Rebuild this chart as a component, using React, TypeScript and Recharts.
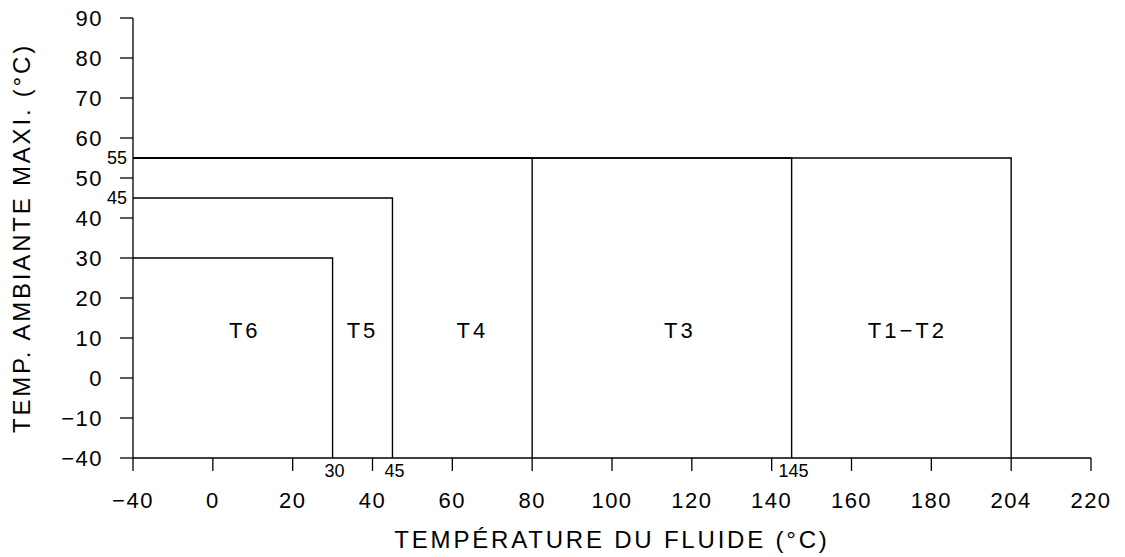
import React from 'react';
import { ComposedChart, Line, Scatter, XAxis, YAxis } from 'recharts';

// tick labels are evenly spaced on the drawing, whatever their value
const xTickLabels = [-40, 0, 20, 40, 60, 80, 100, 120, 140, 160, 180, 204, 220];
const yTickLabels = [-40, -10, 0, 10, 20, 30, 40, 50, 60, 70, 80, 90];

// temperature classes
const zoneNames = ['T6', 'T5', 'T4', 'T3', 'T1−T2'];
const fluidLimits = [30, 45, 80, 145, 204];
const ambientLimits = [30, 45, 55, 55, 55];
const nameFluid = [8, 37.5, 65, 117, 174];
const nameAmbient = [12, 12, 12, 12, 12];

// small values written next to the axes
const fluidMarks = [30, 45, 145];
const ambientMarks = [55, 45];

const FONT = '"Liberation Sans", Arial, sans-serif';

// piecewise position along the evenly spaced ticks
function toIndex(v: number, ticks: number[]) {
  for (let i = 0; i < ticks.length - 1; i++) {
    if (v <= ticks[i + 1]) {
      return i + (v - ticks[i]) / (ticks[i + 1] - ticks[i]);
    }
  }
  return ticks.length - 1;
}
const xi = (v: number) => toIndex(v, xTickLabels);
const yi = (v: number) => toIndex(v, yTickLabels);

const zoneLines = fluidLimits.map((lim, i) => [
  { x: xi(-40), y: yi(ambientLimits[i]) },
  { x: xi(lim), y: yi(ambientLimits[i]) },
  { x: xi(lim), y: yi(-40) },
]);

const nameData = zoneNames.map((name, i) => ({ x: xi(nameFluid[i]), y: yi(nameAmbient[i]), name }));
const fluidMarkData = fluidMarks.map((v) => ({ x: xi(v), y: yi(-40), name: String(v) }));
const ambientMarkData = ambientMarks.map((v) => ({ x: xi(-40), y: yi(v), name: String(v) }));

const XTick = (props: any) => {
  const { x, y, payload } = props;
  return (
    <text x={x} y={y + 37} textAnchor="middle" fontFamily={FONT} fontSize={22} letterSpacing={1.5} fill="#000">
      {String(xTickLabels[payload.value]).replace('-', '−')}
    </text>
  );
};

const YTick = (props: any) => {
  const { x, y, payload } = props;
  return (
    <text x={x - 17} y={y + 8} textAnchor="end" fontFamily={FONT} fontSize={22} letterSpacing={1.5} fill="#000">
      {String(yTickLabels[payload.value]).replace('-', '−')}
    </text>
  );
};

export default function App() {
  return (
    <div style={{ width: 1125, height: 557, background: '#fff' }}>
      <style>{'body{margin:0}'}</style>
      <ComposedChart width={1125} height={557} margin={{ top: 18, right: 34, left: 0, bottom: 0 }}>
        <XAxis
          type="number"
          dataKey="x"
          domain={[0, xTickLabels.length - 1]}
          ticks={xTickLabels.map((_, i) => i)}
          tick={<XTick />}
          tickSize={13}
          tickMargin={0}
          height={99}
          stroke="#000"
          strokeWidth={1.3}
          label={{
            content: (p: any) => {
              const vb = p.viewBox;
              return (
                <text x={vb.x + vb.width / 2} y={548} textAnchor="middle" fontFamily={FONT} fontSize={24} letterSpacing={2.8} fill="#000">
                  TEMPÉRATURE DU FLUIDE (°C)
                </text>
              );
            },
          }}
        />
        <YAxis
          type="number"
          dataKey="y"
          domain={[0, yTickLabels.length - 1]}
          ticks={yTickLabels.map((_, i) => i)}
          tick={<YTick />}
          tickSize={13}
          tickMargin={0}
          width={133}
          stroke="#000"
          strokeWidth={1.3}
          label={{
            content: (p: any) => {
              const vb = p.viewBox;
              const cy = vb.y + vb.height / 2;
              return (
                <text x={30} y={cy} transform={`rotate(-90 30 ${cy})`} textAnchor="middle" fontFamily={FONT} fontSize={24} letterSpacing={2.8} fill="#000">
                  TEMP. AMBIANTE MAXI. (°C)
                </text>
              );
            },
          }}
        />
        {zoneLines.map((d, i) => (
          <Line
            key={zoneNames[i]}
            data={d}
            dataKey="y"
            type="linear"
            stroke="#000"
            strokeWidth={1.4}
            dot={false}
            activeDot={false}
            isAnimationActive={false}
          />
        ))}
        <Scatter
          data={nameData}
          dataKey="y"
          isAnimationActive={false}
          shape={(p: any) => (
            <text x={p.cx} y={p.cy + 8} textAnchor="middle" fontFamily={FONT} fontSize={22} letterSpacing={3} fill="#000">
              {p.payload.name}
            </text>
          )}
        />
        <Scatter
          data={fluidMarkData}
          dataKey="y"
          isAnimationActive={false}
          shape={(p: any) => (
            <text x={p.cx + 2} y={p.cy + 19} textAnchor="middle" fontFamily={FONT} fontSize={18} fill="#000">
              {p.payload.name}
            </text>
          )}
        />
        <Scatter
          data={ambientMarkData}
          dataKey="y"
          isAnimationActive={false}
          shape={(p: any) => (
            <text x={p.cx - 6} y={p.cy + 6} textAnchor="end" fontFamily={FONT} fontSize={18} fill="#000">
              {p.payload.name}
            </text>
          )}
        />
      </ComposedChart>
    </div>
  );
}
